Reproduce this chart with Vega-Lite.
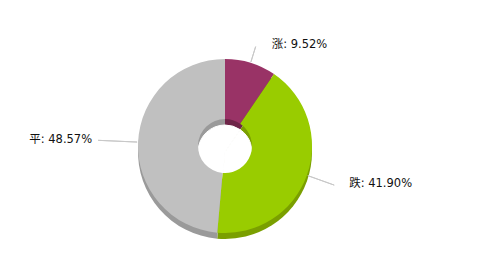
{
  "$schema": "https://vega.github.io/schema/vega-lite/v6.json",
  "width": 480,
  "height": 267,
  "autosize": {"type": "fit", "contains": "padding"},
  "padding": {"left": 0, "right": 30, "top": 25, "bottom": 0},
  "background": "white",
  "view": {"stroke": null},
  "data": {
    "values": [
      {"idx": 1, "name": "涨", "value": 9.52, "label": "涨: 9.52%"},
      {"idx": 2, "name": "跌", "value": 41.90, "label": "跌: 41.90%"},
      {"idx": 3, "name": "平", "value": 48.57, "label": "平: 48.57%"}
    ]
  },
  "encoding": {
    "theta": {"field": "value", "type": "quantitative", "stack": true},
    "order": {"field": "idx", "type": "quantitative"},
    "detail": {"field": "name", "type": "nominal"}
  },
  "layer": [
    {
      "mark": {"type": "arc", "radius": 87, "yOffset": 6},
      "encoding": {
        "fill": {
          "field": "name", "type": "nominal",
          "scale": {"domain": ["涨", "跌", "平"], "range": ["#6e2548", "#7a9f00", "#9a9a9a"]},
          "legend": null
        }
      }
    },
    {
      "mark": {"type": "arc", "radius": 27, "yOffset": 6, "color": "white", "stroke": "white", "strokeWidth": 1}
    },
    {
      "mark": {"type": "arc", "radius": 87, "radius2": 27},
      "encoding": {
        "color": {
          "field": "name", "type": "nominal",
          "scale": {"domain": ["涨", "跌", "平"], "range": ["#993366", "#99cc00", "#c0c0c0"]},
          "legend": null
        }
      }
    },
    {
      "mark": {"type": "arc", "radius": 104, "radius2": 88, "padAngle": 3.1416, "filled": false, "stroke": "#c8c8c8", "strokeWidth": 1},
      "encoding": {"strokeOpacity": {"condition": {"test": "datum.name === '涨'", "value": 1}, "value": 0}}
    },
    {
      "mark": {"type": "arc", "radius": 116, "radius2": 88, "padAngle": 3.1416, "filled": false, "stroke": "#c8c8c8", "strokeWidth": 1},
      "encoding": {"strokeOpacity": {"condition": {"test": "datum.name === '跌'", "value": 1}, "value": 0}}
    },
    {
      "mark": {"type": "arc", "radius": 127, "radius2": 88, "padAngle": 3.1416, "filled": false, "stroke": "#c8c8c8", "strokeWidth": 1},
      "encoding": {"strokeOpacity": {"condition": {"test": "datum.name === '平'", "value": 1}, "value": 0}}
    },
    {
      "mark": {"type": "text", "radius": 104, "align": "left", "baseline": "middle", "dx": 16, "dy": -2, "font": "DejaVu Sans, Noto Sans CJK SC", "fontSize": 11.5, "color": "#111"},
      "encoding": {"text": {"condition": {"test": "datum.name === '涨'", "field": "label", "type": "nominal"}, "value": ""}}
    },
    {
      "mark": {"type": "text", "radius": 116, "align": "left", "baseline": "middle", "dx": 15, "dy": -1, "font": "DejaVu Sans, Noto Sans CJK SC", "fontSize": 11.5, "color": "#111"},
      "encoding": {"text": {"condition": {"test": "datum.name === '跌'", "field": "label", "type": "nominal"}, "value": ""}}
    },
    {
      "mark": {"type": "text", "radius": 127, "align": "right", "baseline": "middle", "dx": -6, "dy": 0, "font": "DejaVu Sans, Noto Sans CJK SC", "fontSize": 11.5, "color": "#111"},
      "encoding": {"text": {"condition": {"test": "datum.name === '平'", "field": "label", "type": "nominal"}, "value": ""}}
    }
  ]
}
